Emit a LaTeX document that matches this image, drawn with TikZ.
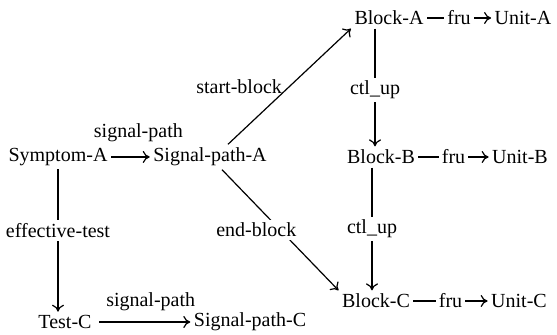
\documentclass[tikz,border=0pt]{standalone}
\usepackage{fontspec}
\setmainfont{Liberation Serif}
\usetikzlibrary{arrows.meta,positioning}

\begin{document}
\begin{tikzpicture}[
      x=0.5pt, y=-0.5pt,
      line width=0.6pt,
      item/.style={
         inner sep=1.5pt,
         font=\fontsize{10}{12}\selectfont},
      cut/.style={
         fill=white,
         inner sep=1.5pt,
         font=\fontsize{10}{12}\selectfont},
      myarrow/.style={-{To[length=3.5pt,width=6pt]}}
      ]
      \useasboundingbox (0,0) rectangle (557,335);

      \node[item] (sa) at (58,157) {Symptom-A};
      \node[item] (spa) at (210,157) {Signal-path-A};
      \node[item] (tc) at (65,322) {Test-C};
      \node[item] (spc) at (250,322) {Signal-path-C};
      \node[item] (ba) at (389,18) {Block-A};
      \node[item] (bb) at (381,157) {Block-B};
      \node[item] (bc) at (376,301) {Block-C};
      \node[item] (ua) at (523,18) {Unit-A};
      \node[item] (ub) at (520,157) {Unit-B};
      \node[item] (uc) at (519,301) {Unit-C};

      % signal paths
      \draw[myarrow] (sa) -- node[item, above=6pt, xshift=4pt] {signal-path} (spa);
      \draw[myarrow] ([xshift=2pt]tc.east) -- node[item, above=4pt, xshift=3pt] {signal-path} (spc);

      % blocks
      \draw[myarrow] ([xshift=9pt]spa.north) -- node[item, left=2pt] {start-block} (ba.south west);
      \draw[myarrow] ([xshift=6pt]spa.south) -- node[cut, xshift=-12pt] {end-block} (bc.north west);

      \draw[myarrow] (sa.south) -- node[cut, pos=0.43] {effective-test} (sa.south |- tc.north);
      \draw[myarrow] ([xshift=-7pt]ba.south) -- node[cut, pos=0.52] {ctl\_up} ([xshift=-7pt]ba.south |- bb.north);
      \draw[myarrow] ([xshift=-4.5pt]bb.south) -- node[cut] {ctl\_up} ([xshift=-4.5pt]bb.south |- bc.north);

      \foreach \b/\u in {ba/ua, bb/ub, bc/uc}
         \draw[myarrow] (\b) -- node[cut] {fru} (\u);
\end{tikzpicture}
\end{document}
